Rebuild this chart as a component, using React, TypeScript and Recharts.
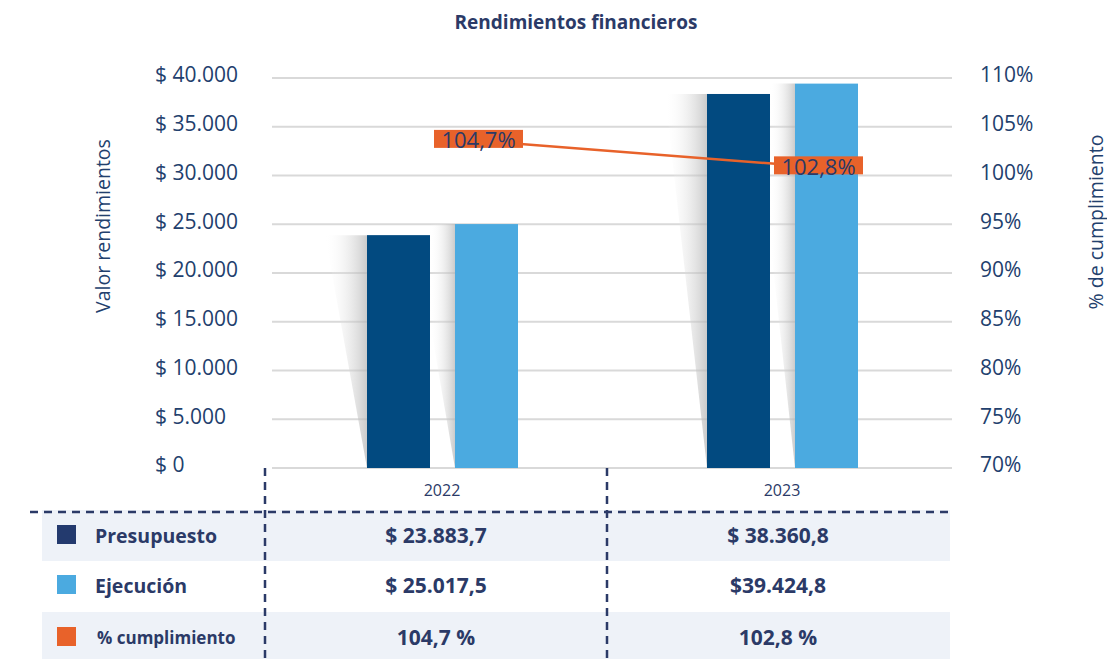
import {
  Bar,
  CartesianGrid,
  ComposedChart,
  LabelList,
  Line,
  XAxis,
  YAxis,
} from "recharts";

const years = ["2022", "2023"];
const presupuesto = [23883.7, 38360.8];
const ejecucion = [25017.5, 39424.8];
const cumplimiento = [104.7, 102.8];

const leftTicks = [0, 5000, 10000, 15000, 20000, 25000, 30000, 35000, 40000];
const rightTicks = [70, 75, 80, 85, 90, 95, 100, 105, 110];

// texts of the table under the chart, as printed
const presupuestoText = ["$ 23.883,7", "$ 38.360,8"];
const ejecucionText = ["$ 25.017,5", "$39.424,8"];
const cumplimientoText = ["104,7 %", "102,8 %"];

const data = years.map((year, i) => ({
  year,
  presupuesto: presupuesto[i],
  ejecucion: ejecucion[i],
  cumplimiento: cumplimiento[i],
}));

const NAVY = "#2b3a67";
const TICK = "#22406d";
const DARK_BAR = "#024a80";
const LIGHT_BAR = "#4baae0";
const ORANGE = "#e8622a";
const FONT = "'Open Sans', sans-serif";

const money = (v: number) => `$ ${v.toLocaleString("de-DE")}`;
const pct = (v: number) => `${v.toFixed(1).replace(".", ",")}%`;

// bar with a soft perspective shadow on its left side
const shadowBar = (maxShadow: number, id: string) => (props: any) => {
  const { x, y, width, height, fill, index } = props;
  const full = 42;
  const w = Math.min(maxShadow, full);
  const cut = y + ((full - w) / full) * height;
  const points =
    w < full
      ? `${x - w},${y} ${x},${y} ${x},${y + height} ${x - w},${cut}`
      : `${x - full},${y} ${x},${y} ${x},${y + height}`;
  const gid = `shadow-${id}-${index}`;
  return (
    <g>
      <defs>
        <linearGradient id={gid} x1="0" y1="0" x2="1" y2="0">
          <stop offset="0%" stopColor="#ffffff" stopOpacity={0} />
          <stop offset="100%" stopColor="#b5b5b5" stopOpacity={0.7} />
        </linearGradient>
      </defs>
      <polygon points={points} fill={`url(#${gid})`} />
      <rect x={x} y={y} width={width} height={height} fill={fill} />
    </g>
  );
};

const PctLabel = (props: any) => {
  const { x, y, value } = props;
  return (
    <g>
      <rect x={x - 8} y={y - 8} width={89} height={18} fill={ORANGE} />
      <text
        x={x + 36.5}
        y={y + 1.5}
        textAnchor="middle"
        dominantBaseline="central"
        fontSize={22}
        fontFamily={FONT}
        fill={NAVY}
      >
        {pct(value)}
      </text>
    </g>
  );
};

const colCenters = [436, 778];
const rows = [
  { label: "Presupuesto", color: "#233a6e", texts: presupuestoText, y: 535, size: 19.5 },
  { label: "Ejecución", color: LIGHT_BAR, texts: ejecucionText, y: 585, size: 19.5 },
  { label: "% cumplimiento", color: ORANGE, texts: cumplimientoText, y: 637, size: 17 },
];

export default function App() {
  return (
    <div
      style={{
        position: "absolute",
        left: 0,
        top: 0,
        width: 1107,
        height: 659,
        background: "#fff",
        fontFamily: FONT,
      }}
    >
      <ComposedChart
        width={1107}
        height={500}
        data={data}
        barSize={63}
        barGap={25}
        margin={{ top: 78, right: 55, left: 172, bottom: 2 }}
      >
        <CartesianGrid
          yAxisId="left"
          vertical={false}
          stroke="#d9d9d9"
          strokeWidth={2}
        />
        <XAxis
          dataKey="year"
          height={30}
          axisLine={false}
          tickLine={false}
          tickMargin={11}
          tick={{ fontSize: 16, fill: NAVY, fontFamily: FONT }}
        />
        <YAxis
          yAxisId="left"
          width={100}
          domain={[0, 40000]}
          ticks={leftTicks}
          axisLine={false}
          tickLine={false}
          tickMargin={24}
          tickFormatter={(v) => money(v)}
          tick={{
            fontSize: 21,
            fill: TICK,
            fontFamily: FONT,
            dy: -3,
            dx: -87,
            textAnchor: "start",
          }}
        />
        <YAxis
          yAxisId="right"
          orientation="right"
          width={100}
          domain={[70, 110]}
          ticks={rightTicks}
          axisLine={false}
          tickLine={false}
          tickMargin={22}
          tickFormatter={(v) => `${v}%`}
          tick={{ fontSize: 21, fill: TICK, fontFamily: FONT, dy: -3 }}
        />
        <YAxis yAxisId="line" hide domain={[81, 109]} />
        <Bar
          yAxisId="left"
          dataKey="presupuesto"
          fill={DARK_BAR}
          shape={shadowBar(42, "p")}
          isAnimationActive={false}
        />
        <Bar
          yAxisId="left"
          dataKey="ejecucion"
          fill={LIGHT_BAR}
          shape={shadowBar(25, "e")}
          isAnimationActive={false}
        />
        {/* keeps the percentage axis bound to the series */}
        <Line
          yAxisId="right"
          dataKey="cumplimiento"
          stroke="none"
          dot={false}
          activeDot={false}
          legendType="none"
          isAnimationActive={false}
        />
        <Line
          yAxisId="line"
          dataKey="cumplimiento"
          stroke={ORANGE}
          strokeWidth={2.5}
          dot={false}
          activeDot={false}
          isAnimationActive={false}
        >
          <LabelList dataKey="cumplimiento" content={<PctLabel />} />
        </Line>
      </ComposedChart>

      <svg
        width={1107}
        height={659}
        style={{ position: "absolute", left: 0, top: 0, pointerEvents: "none" }}
      >
        <text
          x={576}
          y={22}
          textAnchor="middle"
          dominantBaseline="central"
          fontSize={19}
          fontWeight={700}
          fill={NAVY}
          fontFamily={FONT}
        >
          Rendimientos financieros
        </text>
        <text
          transform="translate(102,226) rotate(-90)"
          textAnchor="middle"
          dominantBaseline="central"
          fontSize={19.5}
          fill={TICK}
          fontFamily={FONT}
        >
          Valor rendimientos
        </text>
        <text
          transform="translate(1095,222) rotate(-90)"
          textAnchor="middle"
          dominantBaseline="central"
          fontSize={19.5}
          fill={TICK}
          fontFamily={FONT}
        >
          % de cumplimiento
        </text>

        <rect x={42} y={510} width={908} height={51} fill="#eef2f8" />
        <rect x={42} y={612} width={908} height={47} fill="#eef2f8" />

        <line x1={30} y1={512} x2={950} y2={512} stroke={NAVY} strokeWidth={2.5} strokeDasharray="8 6" />
        <line x1={265} y1={468} x2={265} y2={659} stroke={NAVY} strokeWidth={2.5} strokeDasharray="8 6" />
        <line x1={607} y1={468} x2={607} y2={659} stroke={NAVY} strokeWidth={2.5} strokeDasharray="8 6" />

        {rows.map((r) => (
          <g key={r.label}>
            <rect x={57} y={r.y - 10} width={19} height={19} fill={r.color} />
            <text
              x={r.size > 18 ? 95 : 97}
              y={r.y}
              dominantBaseline="central"
              fontSize={r.size}
              fontWeight={700}
              fill={NAVY}
              fontFamily={FONT}
            >
              {r.label}
            </text>
            {r.texts.map((t, i) => (
              <text
                key={i}
                x={colCenters[i]}
                y={r.y}
                textAnchor="middle"
                dominantBaseline="central"
                fontSize={21}
                fontWeight={700}
                fill={NAVY}
                fontFamily={FONT}
              >
                {t}
              </text>
            ))}
          </g>
        ))}
      </svg>
    </div>
  );
}
